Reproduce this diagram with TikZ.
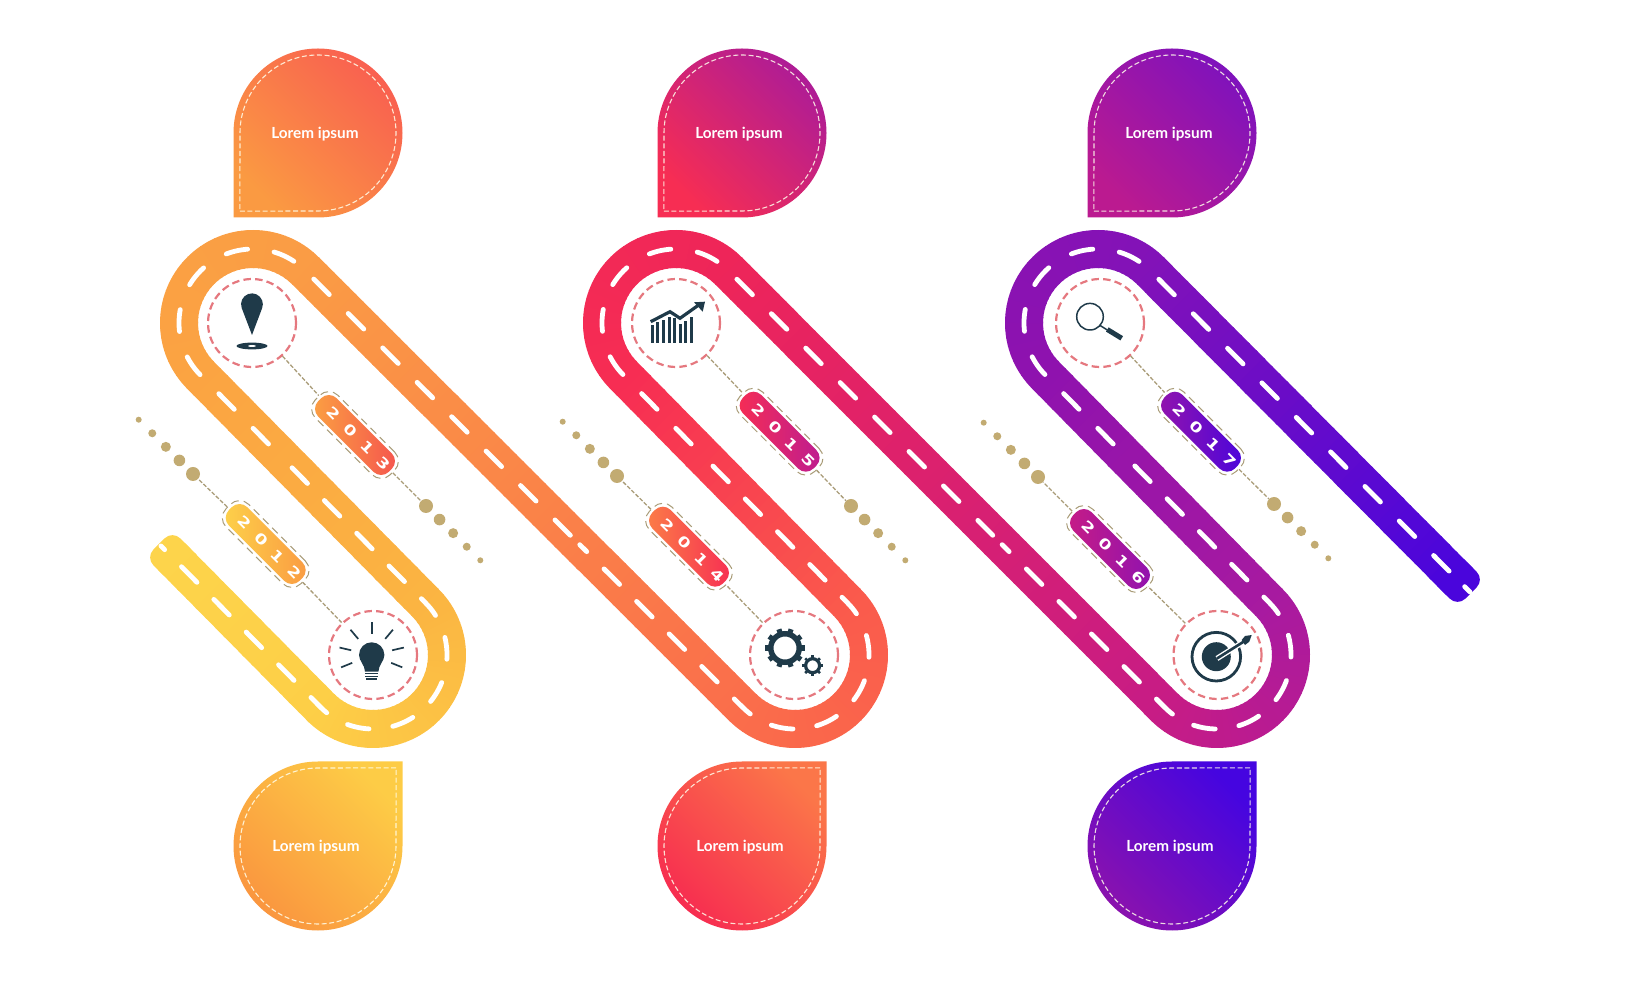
\documentclass[tikz,border=0pt]{standalone}
\usepackage{fontspec}
\usepackage{xcolor}
\usetikzlibrary{calc, positioning}
\newfontfamily\labelfont{Lato}
\newfontfamily\badgefont[LetterSpace=78, FakeStretch=1.3]{DejaVu Sans}
\definecolor{iconcol}{HTML}{1F3A49}
\definecolor{dotcol}{HTML}{C2AB72}
\definecolor{linkcol}{HTML}{A99C78}
\definecolor{ringcol}{HTML}{E5787F}
\definecolor{sa}{HTML}{FDD44B}
\definecolor{sb}{HTML}{FDCF47}
\definecolor{sc}{HTML}{FBB542}
\definecolor{sd}{HTML}{FBA442}
\definecolor{se}{HTML}{FA9C45}
\definecolor{sf}{HTML}{FA6E4B}
\definecolor{sg}{HTML}{FA5A4C}
\definecolor{sh}{HTML}{F72D53}
\definecolor{si}{HTML}{EE2559}
\definecolor{sj}{HTML}{C71C85}
\definecolor{sk}{HTML}{A81AA0}
\definecolor{sl}{HTML}{8F12AE}
\definecolor{sm}{HTML}{8212B8}
\definecolor{sn}{HTML}{4A05DC}
\newcommand{\hexcol}[1]{\definecolor{#1}{HTML}{#1}}
\hexcol{FA9A42}\hexcol{FB9344}\hexcol{F96050}\hexcol{F72D53}\hexcol{D4207A}\hexcol{AE1C96}
\hexcol{BB1A90}\hexcol{A8189C}\hexcol{7F12BC}\hexcol{FDCC46}\hexcol{FCB942}\hexcol{FA963F}
\hexcol{FB7649}\hexcol{FA634A}\hexcol{F72D50}\hexcol{4505E0}\hexcol{6E0EBE}\hexcol{8A12AE}
\hexcol{FDD24A}\hexcol{F5544E}\hexcol{FBA142}\hexcol{FB7E47}\hexcol{BC1C92}\hexcol{8F12B0}
\hexcol{C71C85}\hexcol{4A05DC}\hexcol{9314AC}
\tikzset{
    lanestyle/.style = {line width=38pt, line cap=butt},
    lanedash/.style = {draw=white, line width=4.8pt, line cap=round},
    lowerdash/.style = {lanedash, dash pattern=on 22pt off 24pt},
    upperdash/.style = {lanedash, dash pattern=on 22pt off 26.7pt},
    ringnode/.style = {circle, draw=ringcol, line width=2.2pt, dash pattern=on 7.5pt off 4.2pt, minimum size=88pt, inner sep=0pt},
    linkline/.style = {draw=linkcol, line width=1.3pt, dash pattern=on 4pt off 1.8pt},
    badgenode/.style = {rectangle, rotate=-45, rounded corners=11pt, minimum width=100pt, minimum height=26pt, inner sep=0pt,
      text=white, font=\badgefont\bfseries\fontsize{14}{14}\selectfont},
    badgeline/.style = {rectangle, rotate=-45, rounded corners=13pt, minimum width=106pt, minimum height=32pt, inner sep=0pt,
      draw=linkcol, line width=1pt, dash pattern=on 8pt off 5pt},
    dotnode/.style = {circle, fill=dotcol, inner sep=0pt},
    droptext/.style = {text=white, font=\labelfont\bfseries\fontsize{15.3}{18}\selectfont, inner sep=0pt},
    stitch/.style = {draw=white!92!yellow, draw opacity=.85, line width=1.1pt, dash pattern=on 5pt off 2.6pt}
}
% road pieces, drawn in short strokes so that the colour runs along them
\newcommand{\laneline}[5]{
  \foreach \i in {1,...,#3}{
    \pgfmathsetmacro{\tfrom}{(\i-1)/#3}
    \pgfmathsetmacro{\tto}{(\i+0.2)/#3}
    \pgfmathsetmacro{\mixp}{100*\i/#3}
    \draw[lanestyle, draw=#5!\mixp!#4] ($(#1)!\tfrom!(#2)$) -- ($(#1)!\tto!(#2)$);
  }
}
\newcommand{\lanearc}[5]{
  \foreach \i in {1,...,36}{
    \pgfmathsetmacro{\afrom}{#2+(#3-#2)*(\i-1)/36}
    \pgfmathsetmacro{\ato}{#2+(#3-#2)*(\i+0.2)/36}
    \pgfmathsetmacro{\mixp}{100*\i/36}
    \draw[lanestyle, draw=#5!\mixp!#4] ($(#1)+(\afrom:74)$) arc (\afrom:\ato:74);
  }
}
% name, corner angle, radius, corner colour, middle colour, far colour
\newcommand{\dropshape}[6]{
  \shade[bottom color=#4, middle color=#5, top color=#6, shading angle=#2-270]
    ($(#1)+(#2:1.41421*#3)$) -- ($(#1)+(#2+45:#3)$) arc (#2+45:#2+315:#3) -- cycle;
  \draw[stitch] ($(#1)+(#2:1.41421*#3-9)$) -- ($(#1)+(#2+45:#3-6.5)$) arc (#2+45:#2+315:#3-6.5) -- cycle;
}
% name, x, y, step direction
\newcommand{\dotrow}[4]{
  \foreach \r [count=\k from 0] in {7,5.8,5,4,3}{
    \node[dotnode, minimum size=2*\r pt] (#1\k) at ($(#2,#3)+(#4:19.2*\k)$) {};
  }
}
% centre, body radius, hole radius, tooth radius, teeth
\newcommand{\gearicon}[5]{
  \foreach \i in {1,...,#5}{
    \draw[iconcol, line width=#2*0.3pt] ($(#1)+(\i*360/#5:#2-1)$) -- ($(#1)+(\i*360/#5:#4)$);
  }
  \draw[iconcol, line width=#2pt-#3pt] (#1) circle [radius=(#2+#3)/2];
}

\begin{document}
\begin{tikzpicture}[x=1pt, y=1pt]
\useasboundingbox (0,0) rectangle (1633,980);

% teardrops
\coordinate (dropa) at (318,847);
\coordinate (dropb) at (742,847);
\coordinate (dropc) at (1172,847);
\coordinate (dropd) at (318,134);
\coordinate (drope) at (742,134);
\coordinate (dropf) at (1172,134);
\dropshape{dropa}{225}{84.5}{FA9A42}{FB9344}{F96050}
\dropshape{dropb}{225}{84.5}{F72D53}{D4207A}{AE1C96}
\dropshape{dropc}{225}{84.5}{BB1A90}{A8189C}{7F12BC}
\dropshape{dropd}{45}{84.5}{FDCC46}{FCB942}{FA963F}
\dropshape{drope}{45}{84.5}{FB7649}{FA634A}{F72D50}
\dropshape{dropf}{45}{84.5}{4505E0}{6E0EBE}{8A12AE}
\node[droptext] (texta) at (315,845.5) {Lorem ipsum};
\node[droptext] (textb) at (739,845.5) {Lorem ipsum};
\node[droptext] (textc) at (1169,845.5) {Lorem ipsum};
\node[droptext] (textd) at (316,132.5) {Lorem ipsum};
\node[droptext] (texte) at (740,132.5) {Lorem ipsum};
\node[droptext] (textf) at (1170,132.5) {Lorem ipsum};

% road
\coordinate (topa) at (253,657);
\coordinate (topb) at (676,657);
\coordinate (topc) at (1098,657);
\coordinate (lowa) at (373,325);
\coordinate (lowb) at (795,325);
\coordinate (lowc) at (1217,325);
\coordinate (lanestart) at (159,436);
\coordinate (laneend) at (1471,387);
\coordinate (startin) at ($(lanestart)+(-45:18)$);
\coordinate (endin) at ($(laneend)+(135:18)$);
\foreach \n in {topa,topb,topc,lowa,lowb,lowc}{
  \coordinate (\n in) at ($(\n)+(225:74)$);
  \coordinate (\n out) at ($(\n)+(45:74)$);
}
\fill[sa, rounded corners=11pt] ($(lanestart)+(45:19)$) -- ($(lanestart)+(225:19)$) -- ($(lanestart)+(225:19)+(-45:36)$) -- ($(lanestart)+(45:19)+(-45:36)$) -- cycle;
\fill[sn, rounded corners=11pt] ($(laneend)+(45:19)$) -- ($(laneend)+(225:19)$) -- ($(laneend)+(225:19)+(135:36)$) -- ($(laneend)+(45:19)+(135:36)$) -- cycle;
\laneline{startin}{lowain}{16}{sa}{sb}
\lanearc{lowa}{225}{405}{sb}{sc}
\laneline{lowaout}{topain}{32}{sc}{sd}
\lanearc{topa}{225}{45}{sd}{se}
\laneline{topaout}{lowbin}{60}{se}{sf}
\lanearc{lowb}{225}{405}{sf}{sg}
\laneline{lowbout}{topbin}{32}{sg}{sh}
\lanearc{topb}{225}{45}{sh}{si}
\laneline{topbout}{lowcin}{60}{si}{sj}
\lanearc{lowc}{225}{405}{sj}{sk}
\laneline{lowcout}{topcin}{32}{sk}{sl}
\lanearc{topc}{225}{45}{sl}{sm}
\laneline{topcout}{endin}{40}{sm}{sn}

% road markings
\draw[lanedash] ($(lanestart)!.012!(lowain)$) -- ($(lanestart)!.035!(lowain)$);
\draw[lowerdash] ($(lanestart)!.139!(lowain)$) -- (lowain) arc (225:405:74) -- ($(lowaout)!.616!(topain)$);
\draw[upperdash] ($(lowaout)!.698!(topain)$) -- (topain) arc (225:45:74) -- ($(topaout)!.606!(lowbin)$);
\draw[lanedash] ($(topaout)!.6275!(lowbin)$) -- ($(topaout)!.6435!(lowbin)$);
\draw[lowerdash] ($(topaout)!.683!(lowbin)$) -- (lowbin) arc (225:405:74) -- ($(lowbout)!.616!(topbin)$);
\draw[upperdash] ($(lowbout)!.698!(topbin)$) -- (topbin) arc (225:45:74) -- ($(topbout)!.606!(lowcin)$);
\draw[lanedash] ($(topbout)!.6275!(lowcin)$) -- ($(topbout)!.6435!(lowcin)$);
\draw[lowerdash] ($(topbout)!.683!(lowcin)$) -- (lowcin) arc (225:405:74) -- ($(lowcout)!.616!(topcin)$);
\draw[upperdash] ($(lowcout)!.698!(topcin)$) -- (topcin) arc (225:45:74) -- ($(laneend)+(135:28)$);
\draw[lanedash] ($(laneend)+(135:9)$) -- ($(laneend)+(135:1.5)$);

% rings, badges, dots
\node[ringnode] (pin) at (252,657) {};
\node[ringnode] (chart) at (676,657) {};
\node[ringnode] (lens) at (1100,657) {};
\node[ringnode] (bulb) at (373,325) {};
\node[ringnode] (gears) at (794,325) {};
\node[ringnode] (aim) at (1217.5,325) {};

\node[badgeline] (lineb) at (265.7,436) {};
\node[badgeline] (linec) at (355,545) {};
\node[badgeline] (lined) at (689,433.3) {};
\node[badgeline] (linee) at (779.6,548.3) {};
\node[badgeline] (linef) at (1110,431) {};
\node[badgeline] (lineg) at (1201,548.3) {};
\node[badgenode, left color=FDD24A, right color=FA9A42] (yearb) at (lineb) {2012\kern-10.9pt};
\node[badgenode, left color=FBA142, right color=F5544E] (yearc) at (linec) {2013\kern-10.9pt};
\node[badgenode, left color=FB7E47, right color=F72D53] (yeard) at (lined) {2014\kern-10.9pt};
\node[badgenode, left color=F72D53, right color=BC1C92] (yeare) at (linee) {2015\kern-10.9pt};
\node[badgenode, left color=C71C85, right color=8F12B0] (yearf) at (linef) {2016\kern-10.9pt};
\node[badgenode, left color=9314AC, right color=4A05DC] (yearg) at (lineg) {2017\kern-10.9pt};

\dotrow{dotb}{193}{506}{135}
\dotrow{dotc}{426}{474}{-45}
\dotrow{dotd}{617}{504}{135}
\dotrow{dote}{851}{474}{-45}
\dotrow{dotf}{1038}{503}{135}
\dotrow{dotg}{1274}{476}{-45}

\draw[linkline] (bulb) -- (lineb);
\draw[linkline] (lineb) -- (dotb0);
\draw[linkline] (pin) -- (linec);
\draw[linkline] (linec) -- (dotc0);
\draw[linkline] (gears) -- (lined);
\draw[linkline] (lined) -- (dotd0);
\draw[linkline] (chart) -- (linee);
\draw[linkline] (linee) -- (dote0);
\draw[linkline] (aim) -- (linef);
\draw[linkline] (linef) -- (dotf0);
\draw[linkline] (lens) -- (lineg);
\draw[linkline] (lineg) -- (dotg0);

% pin icon
\begin{scope}[shift={(pin.center)}]
\fill[iconcol] (0,-12) -- (-10.3,15) arc (200:-20:10.9) -- cycle;
\fill[iconcol] (0,-23) ellipse [x radius=15.5, y radius=3.4];
\fill[white] (0,-23) ellipse [x radius=4, y radius=1];
\end{scope}

% chart icon
\begin{scope}[shift={(chart.center)}]
\foreach \x/\y in {-23.7/-2, -18.3/0.5, -12.7/3, -7/5.5, -1.7/5, 4/-1, 9.7/2, 15/6}{
  \fill[iconcol] (\x-1.5,-20.3) rectangle (\x+1.5,\y);
}
\draw[iconcol, line width=3.2pt] (-25.3,1.3) -- (-6,11.3) -- (4,4.7) -- (22,17.5);
\fill[iconcol] (29,21.3) -- (18,20.7) -- (26.7,11.3) -- cycle;
\end{scope}

% lens icon
\begin{scope}[shift={(lens.center)}]
\draw[iconcol, line width=1.5pt] (-10,6.3) circle [radius=13.3];
\draw[iconcol, line width=1.5pt] (-0.7,-2) -- (7.3,-7);
\draw[iconcol, line width=5pt] (7.3,-6.5) -- (21.7,-15.3);
\end{scope}

% bulb icon
\begin{scope}[shift={(bulb.center)}]
\foreach \a in {90,50,130,13,167,-22,202}{
  \draw[iconcol, line width=1.7pt] ($(-1.3,0)+(\a:21)$) -- ($(-1.3,0)+(\a:33)$);
}
\fill[iconcol] (-8,-16.7) .. controls (-8,-10) and (-14,-6) .. (-14,0) arc (180:0:12.7)
  .. controls (11.4,-6) and (5.4,-10) .. (5.4,-16.7) -- cycle;
\draw[iconcol, line width=1.3pt] (-8,-18.6) -- (5.4,-18.6);
\draw[iconcol, line width=1.3pt] (-7.6,-21.4) -- (5,-21.4);
\draw[iconcol, line width=1.3pt] (-6.6,-24) -- (4,-24);
\end{scope}

% gears icon
\begin{scope}[shift={(gears.center)}]
\coordinate (gearbig) at (-9,7);
\coordinate (gearsmall) at (18.6,-10.7);
\gearicon{gearbig}{17}{11.5}{19.7}{10}
\gearicon{gearsmall}{8.6}{5.4}{10.4}{8}
\end{scope}

% aim icon
\begin{scope}[shift={(aim.center)}]
\draw[iconcol, line width=2.8pt] (-1.2,-1.7) circle [radius=24.3];
\fill[iconcol] (-1.2,-1.7) circle [radius=14.5];
\draw[white, line width=5.4pt] (-0.5,-3.5) -- (28,14.5);
\draw[iconcol, line width=2.6pt] (-0.5,-3.5) -- (28,14.5);
\fill[iconcol] (24.2,15) -- (27.5,19) -- (34.2,20) -- (31.8,13.3) -- (27.5,10) -- cycle;
\end{scope}
\end{tikzpicture}
\end{document}
